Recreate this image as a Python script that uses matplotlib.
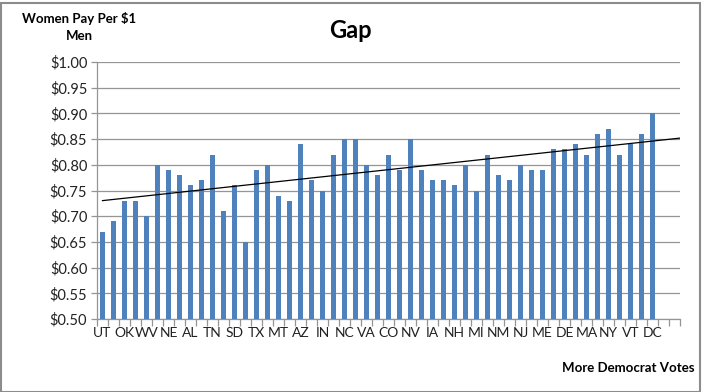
import numpy as np
import matplotlib
matplotlib.use("Agg")
import matplotlib.pyplot as plt
from matplotlib.ticker import FuncFormatter, FixedLocator
from matplotlib.patches import Rectangle

plt.rcParams['font.family'] = ['Lato', 'DejaVu Sans']

states = ["UT", "", "OK", "", "WV", "", "NE", "", "AL", "", "TN", "", "SD", "",
          "TX", "", "MT", "", "AZ", "", "IN", "", "NC", "", "VA", "", "CO", "",
          "NV", "", "IA", "", "NH", "", "MI", "", "NM", "", "NJ", "", "ME", "",
          "DE", "", "MA", "", "NY", "", "VT", "", "DC", "", ""]
pay = [0.67, 0.69, 0.73, 0.73, 0.70, 0.80, 0.79, 0.78, 0.76, 0.77, 0.82, 0.71,
       0.76, 0.65, 0.79, 0.80, 0.74, 0.73, 0.84, 0.77, 0.75, 0.82, 0.85, 0.85,
       0.80, 0.78, 0.82, 0.79, 0.85, 0.79, 0.77, 0.77, 0.76, 0.80, 0.75, 0.82,
       0.78, 0.77, 0.80, 0.79, 0.79, 0.83, 0.83, 0.84, 0.82, 0.86, 0.87, 0.82,
       0.84, 0.86, 0.90]
yticks = [0.50, 0.55, 0.60, 0.65, 0.70, 0.75, 0.80, 0.85, 0.90, 0.95, 1.00]

fig = plt.figure(figsize=(7.02, 3.92), dpi=100)
W, H = 702, 392
ax = fig.add_axes([97 / W, 1 - 319 / H, (680 - 97) / W, (319 - 62) / H])

n = len(states)
xs = np.arange(len(pay))
ax.bar(xs, pay, width=0.5, color="#4F81BD", zorder=3)

# linear trendline (Excel-style)
coef = np.polyfit(xs, pay, 1)
tx = np.array([0, n - 0.5])
ax.plot(tx, np.polyval(coef, tx), color="black", lw=0.9, zorder=4)

ax.set_xlim(-0.5, n - 0.5)
ax.set_ylim(0.5, 1.0)
ax.set_yticks(yticks)
ax.yaxis.set_major_formatter(FuncFormatter(lambda v, p: f"${v:.2f}"))
ax.grid(axis="y", color="#959595", lw=0.9, zorder=0)

ax.xaxis.set_major_locator(FixedLocator(np.arange(n)))
ax.set_xticklabels(states)
ax.xaxis.set_minor_locator(FixedLocator(np.arange(n + 1) - 0.5))
ax.tick_params(axis="x", which="major", length=0, pad=6, labelsize=10, colors="#222222")
ax.tick_params(axis="x", which="minor", length=5, color="#959595", width=0.9)
ax.tick_params(axis="y", length=4, color="#959595", width=0.9, labelsize=10.5,
               labelcolor="#222222", pad=3)

for s in ["top", "right"]:
    ax.spines[s].set_visible(False)
for s in ["left", "bottom"]:
    ax.spines[s].set_color("#959595")
    ax.spines[s].set_linewidth(0.9)

fig.text(350 / W, 1 - 31 / H, "Gap", ha="center", va="center",
         fontsize=17, fontweight="bold", color="black")
fig.text(79 / W, 1 - 27 / H, "Women Pay Per $1\nMen", ha="center", va="center",
         fontsize=9.5, fontweight="bold", color="black", linespacing=1.45)
fig.text(694 / W, 1 - 368 / H, "More Democrat Votes", ha="right", va="center",
         fontsize=9.5, fontweight="bold", color="black")

fig.patches.append(Rectangle((0.5 / W, 0.5 / H), (W - 3) / W, (H - 3) / H,
                             transform=fig.transFigure, fill=False,
                             edgecolor="#8c8c8c", lw=1.5))

fig.savefig("out.png", dpi=100)
